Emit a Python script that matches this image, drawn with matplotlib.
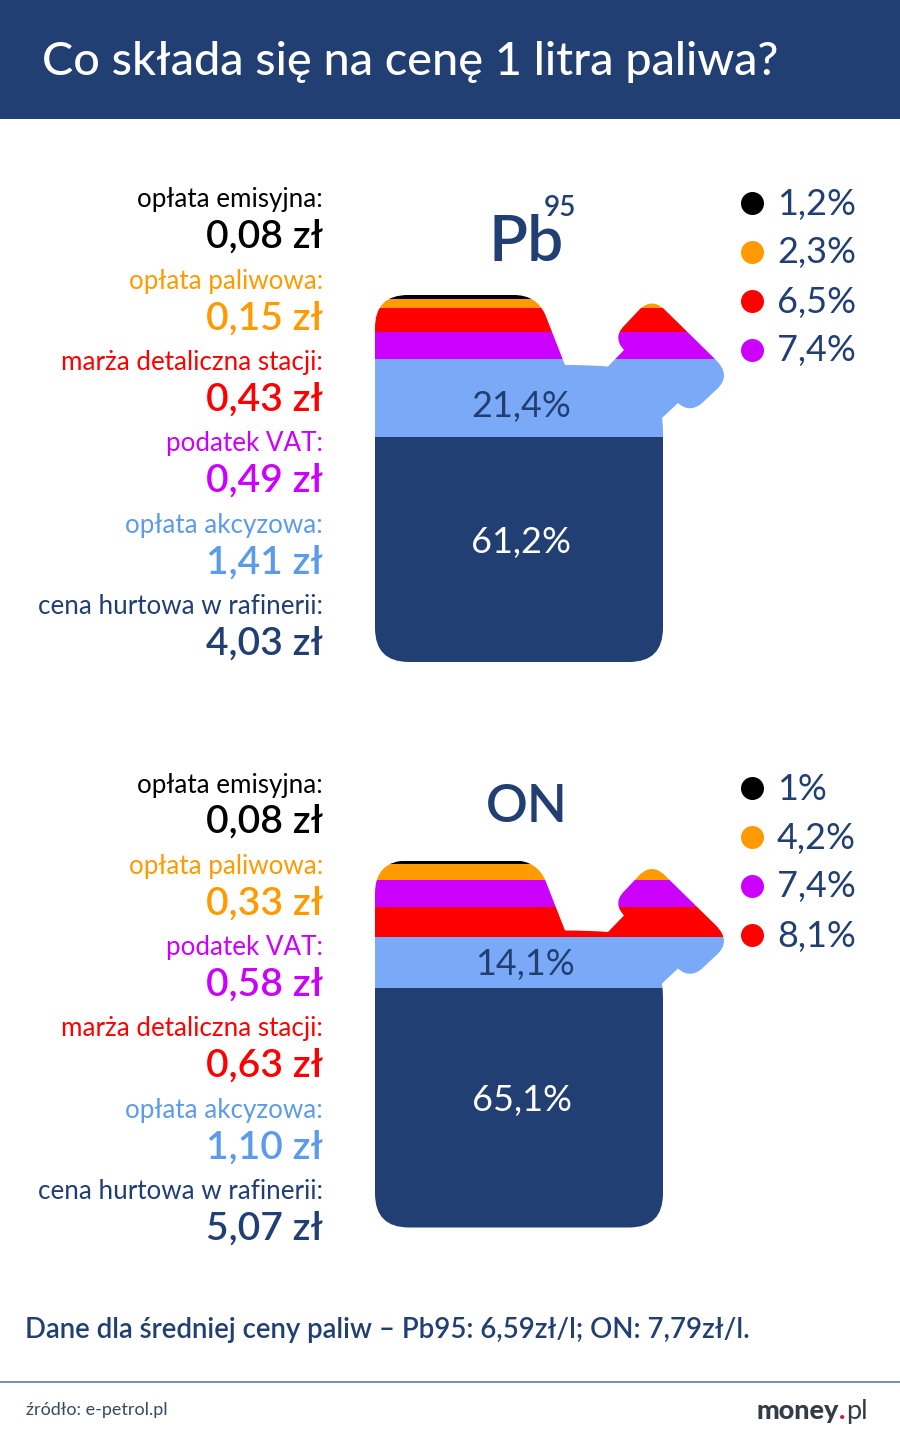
#!/usr/bin/env python
import matplotlib
matplotlib.use("Agg")
import matplotlib.pyplot as plt
from matplotlib.path import Path
from matplotlib.patches import Rectangle

plt.rcParams['font.family'] = ['Lato', 'DejaVu Sans']

#data, top of the can to the bottom
pb_labels = ["opłata emisyjna:", "opłata paliwowa:", "marża detaliczna stacji:", "podatek VAT:", "opłata akcyzowa:", "cena hurtowa w rafinerii:"]
pb_prices = ["0,08 zł", "0,15 zł", "0,43 zł", "0,49 zł", "1,41 zł", "4,03 zł"]
pb_shares = [1.2, 2.3, 6.5, 7.4, 21.4, 61.2]
pb_share_labels = ["1,2%", "2,3%", "6,5%", "7,4%", "21,4%", "61,2%"]

on_labels = ["opłata emisyjna:", "opłata paliwowa:", "podatek VAT:", "marża detaliczna stacji:", "opłata akcyzowa:", "cena hurtowa w rafinerii:"]
on_prices = ["0,08 zł", "0,33 zł", "0,58 zł", "0,63 zł", "1,10 zł", "5,07 zł"]
on_shares = [1.0, 4.2, 7.4, 8.1, 14.1, 65.1]
on_share_labels = ["1%", "4,2%", "7,4%", "8,1%", "14,1%", "65,1%"]

NAVY = "#213f73"
BLACK = "#000000"
ORANGE = "#ff9a00"
RED = "#ff0000"
PURPLE = "#cc00ff"
FILL_BLUE = "#7aa9f7"
TEXT_BLUE = "#5c9bec"

pb_fill = [BLACK, ORANGE, RED, PURPLE, FILL_BLUE, NAVY]
pb_text = [BLACK, ORANGE, RED, PURPLE, TEXT_BLUE, NAVY]
on_fill = [BLACK, ORANGE, PURPLE, RED, FILL_BLUE, NAVY]
on_text = [BLACK, ORANGE, PURPLE, RED, TEXT_BLUE, NAVY]

W, H = 900, 1440
fig = plt.figure(figsize=(W / 100, H / 100), dpi=100)

#overlay in pixel coords for all the text
page = fig.add_axes([0, 0, 1, 1], zorder=3)
page.set_xlim(0, W)
page.set_ylim(H, 0)
page.axis("off")


def px(size):
    return size * 0.72


def can_outline(dy):
    #canister silhouette, only used as a clip shape
    M, L, C = Path.MOVETO, Path.LINETO, Path.CURVE3
    pts = [
        ((375, 328), M),
        ((375, 295), C), ((408, 295), C),
        ((514, 295), L),
        ((536, 295), C), ((545, 314), C),
        ((565, 365), L),
        ((590, 365), C), ((608, 366.5), C),
        ((624, 350), L),
        ((613, 338), C), ((623, 327), C),
        ((640, 309), L),
        ((652, 298), C), ((664, 309), C),
        ((716, 360), L),
        ((732, 376), C), ((716, 390), C),
        ((701, 404), L),
        ((689, 413), C), ((678, 403), C),
        ((662, 418), L),
        ((663, 425), C), ((663, 432), C),
        ((663, 628), L),
        ((663, 662), C), ((629, 662), C),
        ((409, 662), L),
        ((375, 662), C), ((375, 628), C),
        ((375, 328), L),
    ]
    return Path([(x, y + dy) for (x, y), _ in pts], [c for _, c in pts])


def draw_can(shares, colors, dy):
    ax = fig.add_axes([375 / W, 1 - (662 + dy) / H, (724 - 375) / W, 367 / H], zorder=2)
    ax.set_xlim(0, 1)
    ax.set_ylim(sum(shares), 0)
    ax.axis("off")
    clip = can_outline(dy)
    bottom = 0
    for share, color in zip(shares, colors):
        bars = ax.bar(0.5, share, width=1, bottom=bottom, color=color, linewidth=0)
        for b in bars:
            b.set_clip_path(clip, page.transData)
        bottom += share


def draw_side(labels, prices, colors, share_labels, legend_colors, dy):
    for i in range(6):
        page.text(323, 200 + dy + i * 81.3, labels[i], color=colors[i], fontsize=px(26),
                  ha="right", va="center")
        page.text(323, 237 + dy + i * 81.3, prices[i], color=colors[i], fontsize=px(39),
                  ha="right", va="center", fontweight="semibold")
    for i in range(4):
        y = 203 + dy + i * 49
        page.scatter([752], [y], s=px(23) ** 2, color=legend_colors[i], linewidths=0)
        page.text(777, y + 1, share_labels[i], color=NAVY, fontsize=px(36), ha="left", va="center")


#header band
page.add_patch(Rectangle((0, 0), W, 119, color=NAVY, linewidth=0))
page.text(42, 62, "Co składa się na cenę 1 litra paliwa?", color="white", fontsize=px(46.8),
          ha="left", va="center", fontweight="medium")

draw_can(pb_shares, pb_fill, 0)
draw_can(on_shares, on_fill, 565.5)

draw_side(pb_labels, pb_prices, pb_text, pb_share_labels, pb_fill[:4], 0)
draw_side(on_labels, on_prices, on_text, on_share_labels, on_fill[:4], 585)

#can titles
page.text(526, 243, "Pb", color=NAVY, fontsize=px(64), ha="center", va="center", fontweight="semibold")
page.text(560, 208, "95", color=NAVY, fontsize=px(28), ha="center", va="center", fontweight="semibold")
page.text(527, 808, "ON", color=NAVY, fontsize=px(52), ha="center", va="center", fontweight="semibold")

#labels of the two big segments
page.text(521, 406, pb_share_labels[4], color=NAVY, fontsize=px(36), ha="center", va="center")
page.text(521, 543, pb_share_labels[5], color="white", fontsize=px(36), ha="center", va="center")
page.text(525, 965, on_share_labels[4], color=NAVY, fontsize=px(36), ha="center", va="center")
page.text(522, 1101, on_share_labels[5], color="white", fontsize=px(36), ha="center", va="center")

#footer
page.text(25, 1330, "Dane dla średniej ceny paliw – Pb95: 6,59zł/l; ON: 7,79zł/l.", color=NAVY,
          fontsize=px(27.6), ha="left", va="center", fontweight="semibold")
page.plot([0, W], [1382, 1382], color="#5d7fa6", linewidth=1.2)
page.text(26, 1410, "źródło: e-petrol.pl", color="#3a4a5e", fontsize=px(18), ha="left", va="center")
page.text(839, 1411, "money", color="#333b47", fontsize=px(27), ha="right", va="center", fontweight="black")
page.text(845, 1411, ".", color="#e0144c", fontsize=px(27), ha="right", va="center", fontweight="black")
page.text(846, 1411, "pl", color="#333b47", fontsize=px(27), ha="left", va="center")

fig.savefig("out.png", dpi=100, facecolor="white")
